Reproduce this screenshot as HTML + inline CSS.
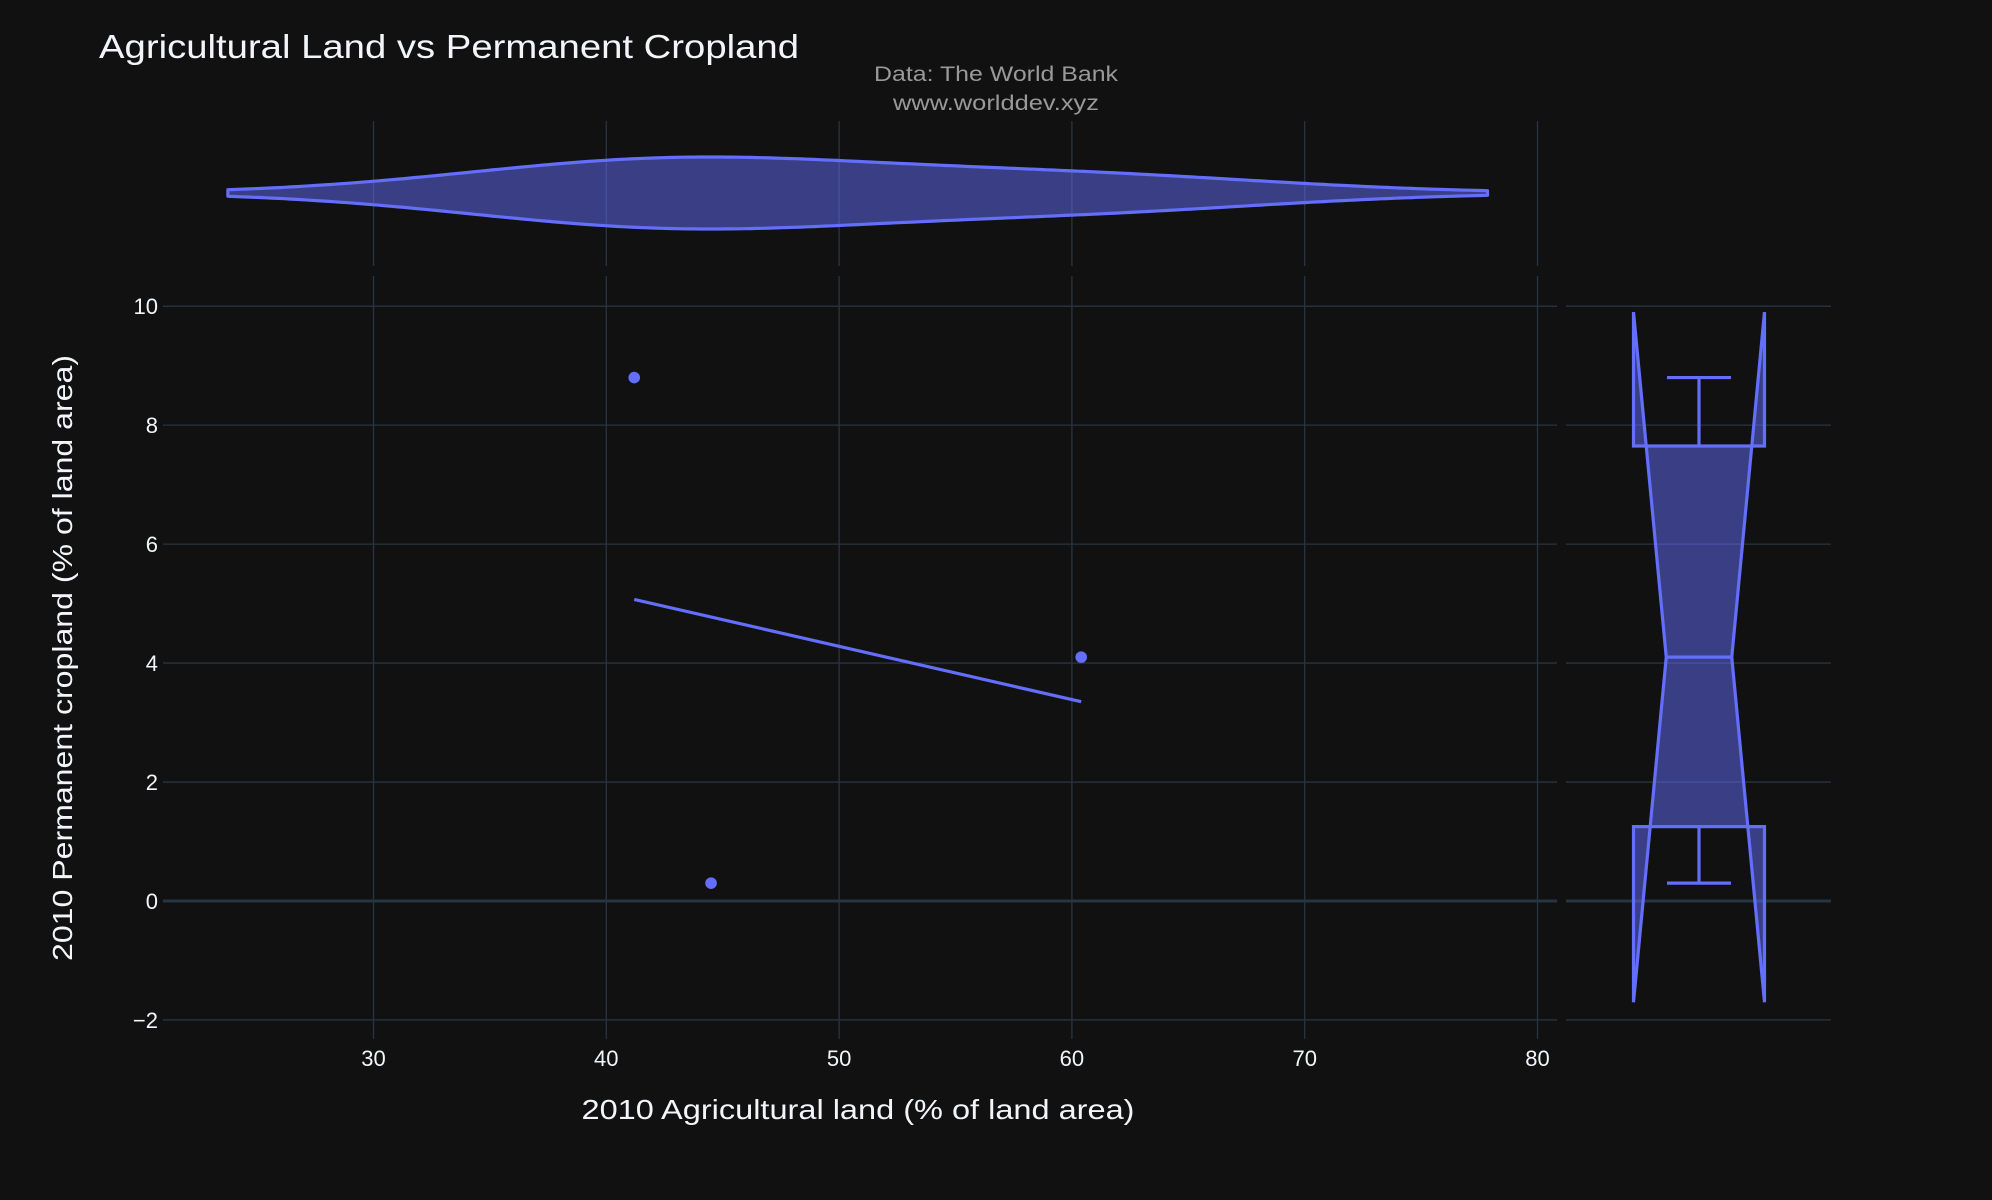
<!DOCTYPE html>
<html><head><meta charset="utf-8"><style>
html,body{margin:0;padding:0;background:#111111;}
svg{display:block;font-family:"Liberation Sans","DejaVu Sans",sans-serif;}
</style></head><body>
<svg id="chart" width="1992" height="1200" viewBox="0 0 1992 1200" xmlns="http://www.w3.org/2000/svg">
<rect width="1992" height="1200" fill="#111111"/>
<g id="grid"></g>
<g id="marks"></g>
<g id="labels"></g>
<text x="99" y="58" font-size="33" fill="#f2f5fa" textLength="700" lengthAdjust="spacingAndGlyphs">Agricultural Land vs Permanent Cropland</text>
<text x="996" y="81" font-size="21" fill="#999999" text-anchor="middle" textLength="244" lengthAdjust="spacingAndGlyphs">Data: The World Bank</text>
<text x="996" y="110" font-size="21" fill="#999999" text-anchor="middle" textLength="206" lengthAdjust="spacingAndGlyphs">www.worlddev.xyz</text>
<text x="858" y="1119" font-size="28" fill="#f2f5fa" text-anchor="middle" textLength="553" lengthAdjust="spacingAndGlyphs">2010 Agricultural land (% of land area)</text>
<text transform="translate(72,658) rotate(-90)" font-size="28" fill="#f2f5fa" text-anchor="middle" textLength="606" lengthAdjust="spacingAndGlyphs">2010 Permanent cropland (% of land area)</text>
</svg>
<script>
const xValues = [41.2, 44.5, 60.4];
const yValues = [8.8, 0.3, 4.1];
const trendX = [41.2, 60.4];
const trendY = [5.07, 3.35];
const xTicks = [30, 40, 50, 60, 70, 80];
const yTicks = [-2, 0, 2, 4, 6, 8, 10];
const boxStats = [0.3, 1.25, 4.1, 7.65, 8.8]; // min, q1, median, q3, max

const NS = "http://www.w3.org/2000/svg";
const X = v => 373.5 + (v - 30) * 23.28;
const Y = v => 901 - v * 59.48;
function mk(tag, attrs, parent) {
  const e = document.createElementNS(NS, tag);
  for (const k in attrs) e.setAttribute(k, attrs[k]);
  document.getElementById(parent).appendChild(e);
  return e;
}
const gridC = "#283442";
const SW = 3.2;
xTicks.forEach(t => {
  const l1 = mk("line", {x1: X(t), x2: X(t), y1: 121, y2: 266, stroke: gridC, "stroke-width": 1.3}, "grid");
  
  
  const l2 = mk("line", {x1: X(t), x2: X(t), y1: 276, y2: 1039, stroke: gridC, "stroke-width": 1.3}, "grid");
  
  
  const tx = mk("text", {x: X(t), y: 1066, "font-size": 22, fill: "#f2f5fa", "text-anchor": "middle"}, "labels");
  tx.textContent = t;
  
  
});
yTicks.forEach(t => {
  const w = t === 0 ? 3 : 1.3;
  const l1 = mk("line", {x1: 163, x2: 1557, y1: Y(t), y2: Y(t), stroke: gridC, "stroke-width": w}, "grid");
  
  
  const l2 = mk("line", {x1: 1566, x2: 1831, y1: Y(t), y2: Y(t), stroke: gridC, "stroke-width": w}, "grid");
  
  
  const tx = mk("text", {x: 158, y: Y(t) + 8, "font-size": 22, fill: "#f2f5fa", "text-anchor": "end"}, "labels");
  tx.textContent = t < 0 ? "\u2212" + Math.abs(t) : t;
  
  
});
const blue = "#636efa", fillC = "rgba(99,110,250,0.5)";
(function () {
  const n = xValues.length;
  const mean = xValues.reduce((a, b) => a + b, 0) / n;
  const sd = Math.sqrt(xValues.reduce((a, b) => a + (b - mean) ** 2, 0) / (n - 1));
  const bw = 1.059 * sd * Math.pow(n, -0.2);
  const lo = Math.min(...xValues) - 2 * bw, hi = Math.max(...xValues) + 2 * bw;
  const dens = v => xValues.reduce((a, x) => a + Math.exp(-0.5 * ((v - x) / bw) ** 2), 0);
  const pts = [];
  let maxD = 0;
  for (let i = 0; i <= 200; i++) { const v = lo + (hi - lo) * i / 200; const d = dens(v); maxD = Math.max(maxD, d); pts.push([v, d]); }
  const cy = 193, hw = 36;
  let top = pts.map(p => X(p[0]).toFixed(1) + "," + (cy - hw * p[1] / maxD).toFixed(1));
  let bot = pts.slice().reverse().map(p => X(p[0]).toFixed(1) + "," + (cy + hw * p[1] / maxD).toFixed(1));
  const v = mk("path", {d: "M" + top.join("L") + "L" + bot.join("L") + "Z", fill: fillC, stroke: blue, "stroke-width": SW, "stroke-linejoin": "round"}, "marks");
  
  
})();
const tl = mk("line", {x1: X(trendX[0]), y1: Y(trendY[0]), x2: X(trendX[1]), y2: Y(trendY[1]), stroke: blue, "stroke-width": SW}, "marks");


xValues.forEach((xv, i) => {
  const c = mk("circle", {cx: X(xv), cy: Y(yValues[i]), r: 5.8, fill: blue}, "marks");
  
  
});
(function () {
  const [mn, q1, med, q3, mx] = boxStats;
  const n = yValues.length;
  const notch = 1.57 * (q3 - q1) / Math.sqrt(n);
  const cx = 1699, hw = 65.5, cap = 32;
  const L = cx - hw, R = cx + hw, nl = cx - hw / 2, nr = cx + hw / 2;
  const d = `M${L},${Y(q1)}L${L},${Y(med - notch)}L${nl},${Y(med)}L${L},${Y(med + notch)}L${L},${Y(q3)}` +
            `L${R},${Y(q3)}L${R},${Y(med + notch)}L${nr},${Y(med)}L${R},${Y(med - notch)}L${R},${Y(q1)}Z`;
  const b = mk("path", {d: d, fill: fillC, stroke: blue, "stroke-width": SW}, "marks");
  
  
  const m = mk("line", {x1: nl, x2: nr, y1: Y(med), y2: Y(med), stroke: blue, "stroke-width": SW}, "marks");
  
  
  const w = mk("path", {d: `M${cx},${Y(q3)}L${cx},${Y(mx)}M${cx - cap},${Y(mx)}L${cx + cap},${Y(mx)}M${cx},${Y(q1)}L${cx},${Y(mn)}M${cx - cap},${Y(mn)}L${cx + cap},${Y(mn)}`, fill: "none", stroke: blue, "stroke-width": SW}, "marks");
  
  
})();
</script>
</body></html>
